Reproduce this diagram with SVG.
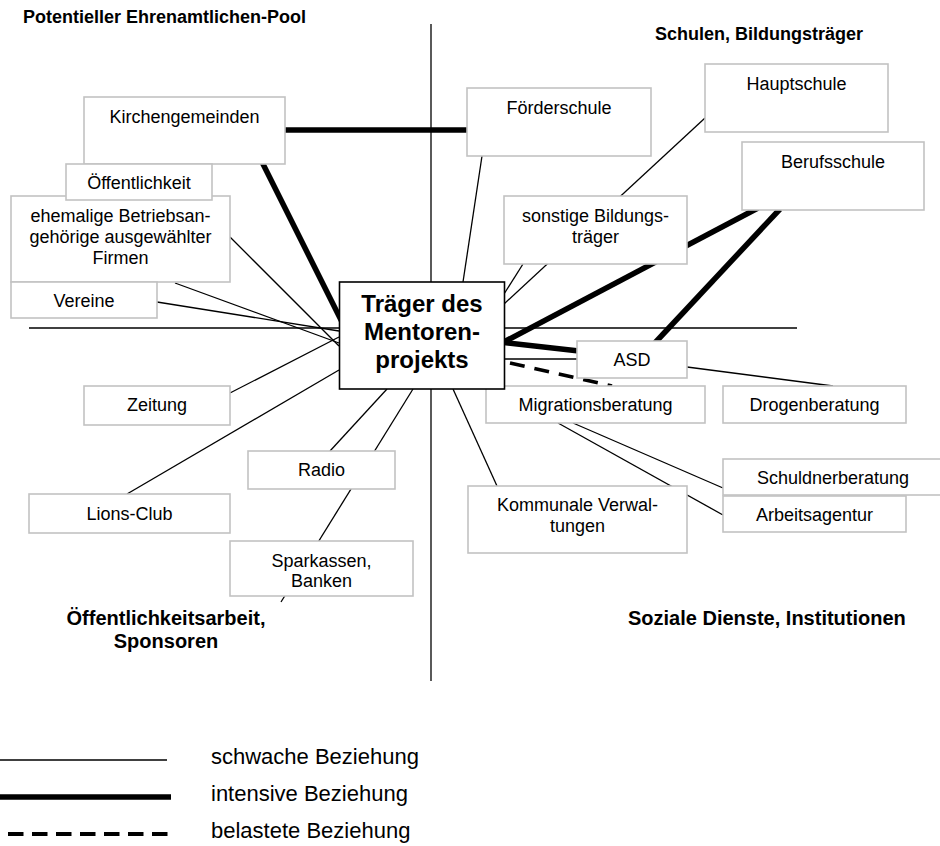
<svg xmlns="http://www.w3.org/2000/svg" width="940" height="846" viewBox="0 0 940 846">
<style>
.bg{fill:#fff}
.box{fill:#fff;stroke:#c2c2c2;stroke-width:1.6}
.main{fill:#fff;stroke:#000;stroke-width:1.6}
.t{font-family:"Liberation Sans",Arial,sans-serif;font-size:18px;fill:#000;text-anchor:middle}
.h{font-family:"Liberation Sans",Arial,sans-serif;font-weight:bold;fill:#000}
.lg{font-family:"Liberation Sans",Arial,sans-serif;font-size:22px;fill:#000}
.axis{stroke:#000;stroke-width:1.3;fill:none}
.thin{stroke:#000;stroke-width:1.3;fill:none}
.thick{stroke:#000;stroke-width:5.5;fill:none}
.dash{stroke:#000;stroke-width:3.5;stroke-dasharray:15 10;fill:none}
</style>
<rect class="bg" x="0" y="0" width="940" height="846"/>

<g id="titles">
<text class="h" x="23" y="23" font-size="18">Potentieller Ehrenamtlichen-Pool</text>
<text class="h" x="655" y="40" font-size="18">Schulen, Bildungsträger</text>
<text class="h" x="166" y="625" font-size="20" text-anchor="middle">Öffentlichkeitsarbeit,</text>
<text class="h" x="166" y="648" font-size="20" text-anchor="middle">Sponsoren</text>
<text class="h" x="628" y="625" font-size="20">Soziale Dienste, Institutionen</text>
</g>

<g id="axes">
<line class="axis" x1="431" y1="24" x2="431" y2="681"/>
<line class="axis" x1="29" y1="328" x2="797" y2="328"/>
</g>

<g id="connectors">
<line class="thin" x1="230" y1="237" x2="339" y2="346"/>
<line class="thin" x1="175" y1="283" x2="339" y2="343"/>
<line class="thin" x1="157" y1="302" x2="339" y2="331"/>
<line class="thin" x1="230" y1="393" x2="339" y2="337"/>
<line class="thin" x1="127" y1="494" x2="339" y2="370"/>
<line class="thin" x1="387" y1="389" x2="330" y2="451"/>
<line class="thin" x1="413" y1="389" x2="281" y2="602"/>
<line class="thin" x1="453" y1="389" x2="497" y2="486"/>
<line class="thin" x1="482" y1="156" x2="463" y2="282"/>
<line class="thin" x1="705" y1="118" x2="504" y2="304"/>
<line class="thin" x1="523" y1="264" x2="504" y2="294"/>
<line class="thin" x1="504" y1="359" x2="577" y2="359"/>
<line class="thin" x1="687" y1="367" x2="833" y2="386"/>
<line class="thin" x1="573" y1="423" x2="723" y2="488"/>
<line class="thin" x1="558" y1="423" x2="723" y2="515"/>
<line class="thick" x1="285" y1="130" x2="467" y2="130"/>
<line class="thick" x1="262" y1="162" x2="343" y2="324"/>
<line class="thick" x1="500" y1="344" x2="758" y2="208"/>
<line class="thick" x1="500" y1="342" x2="579" y2="351"/>
<line class="thick" x1="652" y1="346" x2="780" y2="209"/>
<line class="dash" x1="510" y1="363" x2="612" y2="386"/>
</g>

<g id="n-kirchengemeinden"><rect class="box" x="84" y="97" width="201" height="67"/><text class="t" x="184.5" y="123">Kirchengemeinden</text></g>
<g id="n-ehemalige"><rect class="box" x="11" y="196" width="219" height="86"/><text class="t" x="120.5" y="222">ehemalige Betriebsan-</text><text class="t" x="120.5" y="243">gehörige ausgewählter</text><text class="t" x="120.5" y="264">Firmen</text></g>
<g id="n-oeffentlichkeit"><rect class="box" x="66" y="164" width="146" height="36"/><text class="t" x="139" y="189">Öffentlichkeit</text></g>
<g id="n-vereine"><rect class="box" x="11" y="282" width="146" height="36"/><text class="t" x="84" y="307">Vereine</text></g>
<g id="n-foerderschule"><rect class="box" x="467" y="88" width="184" height="68"/><text class="t" x="559" y="114">Förderschule</text></g>
<g id="n-hauptschule"><rect class="box" x="705" y="64" width="183" height="68"/><text class="t" x="796.5" y="90">Hauptschule</text></g>
<g id="n-berufsschule"><rect class="box" x="742" y="142" width="182" height="68"/><text class="t" x="833" y="168">Berufsschule</text></g>
<g id="n-sonstige"><rect class="box" x="504" y="196" width="183" height="68"/><text class="t" x="595.5" y="222">sonstige Bildungs-</text><text class="t" x="595.5" y="243">träger</text></g>
<g id="n-zeitung"><rect class="box" x="84" y="386" width="146" height="39"/><text class="t" x="157" y="411">Zeitung</text></g>
<g id="n-lions"><rect class="box" x="29" y="494" width="201" height="39"/><text class="t" x="129.5" y="520">Lions-Club</text></g>
<g id="n-radio"><rect class="box" x="248" y="451" width="147" height="38"/><text class="t" x="321.5" y="476">Radio</text></g>
<g id="n-sparkassen"><rect class="box" x="230" y="541" width="183" height="55"/><text class="t" x="321.5" y="567">Sparkassen,</text><text class="t" x="321.5" y="587">Banken</text></g>
<g id="n-asd"><rect class="box" x="577" y="341" width="110" height="37"/><text class="t" x="632" y="366">ASD</text></g>
<g id="n-migrationsberatung"><rect class="box" x="486" y="386" width="219" height="37"/><text class="t" x="595.5" y="411">Migrationsberatung</text></g>
<g id="n-drogenberatung"><rect class="box" x="723" y="386" width="183" height="37"/><text class="t" x="814.5" y="411">Drogenberatung</text></g>
<g id="n-kommunale"><rect class="box" x="468" y="486" width="219" height="67"/><text class="t" x="577.5" y="511">Kommunale Verwal-</text><text class="t" x="577.5" y="532">tungen</text></g>
<g id="n-schuldnerberatung"><rect class="box" x="723" y="459" width="222" height="36"/><text class="t" x="833" y="484">Schuldnerberatung</text></g>
<g id="n-arbeitsagentur"><rect class="box" x="723" y="496" width="183" height="36"/><text class="t" x="814.5" y="521">Arbeitsagentur</text></g>

<g id="n-traeger"><rect class="main" x="339.5" y="282" width="165" height="107"/>
<text class="h" x="422" y="312" font-size="24" text-anchor="middle">Träger des</text>
<text class="h" x="422" y="340" font-size="24" text-anchor="middle">Mentoren-</text>
<text class="h" x="422" y="368" font-size="24" text-anchor="middle">projekts</text></g>

<g id="legend">
<line class="thin" x1="0" y1="760" x2="167" y2="760"/>
<line class="thick" x1="0" y1="797" x2="171" y2="797"/>
<line stroke="#000" stroke-width="4" stroke-dasharray="15.5 8.5" x1="8" y1="834" x2="170" y2="834"/>
<text class="lg" x="211" y="764">schwache Beziehung</text>
<text class="lg" x="211" y="801">intensive Beziehung</text>
<text class="lg" x="211" y="838">belastete Beziehung</text>
</g>
</svg>
